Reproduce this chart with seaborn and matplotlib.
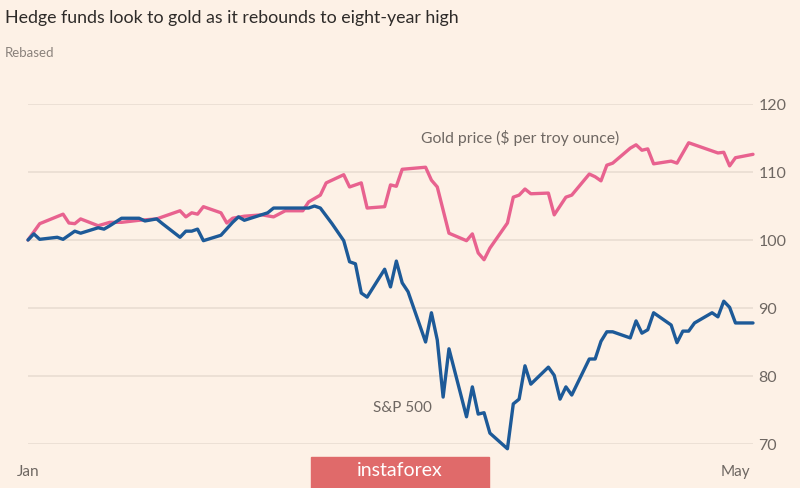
import matplotlib
matplotlib.use("Agg")
import matplotlib.pyplot as plt
import seaborn as sns
import pandas as pd

# gold price, rebased to 100 on 1 Jan
gold_dates = ['2020-01-01', '2020-01-03', '2020-01-05', '2020-01-07', '2020-01-08', '2020-01-09',
              '2020-01-10', '2020-01-13', '2020-01-15', '2020-01-17', '2020-01-20', '2020-01-23',
              '2020-01-25', '2020-01-27', '2020-01-28', '2020-01-29', '2020-01-30', '2020-01-31',
              '2020-02-01', '2020-02-03', '2020-02-04', '2020-02-05', '2020-02-07', '2020-02-10',
              '2020-02-12', '2020-02-14', '2020-02-17', '2020-02-18', '2020-02-20', '2020-02-21',
              '2020-02-24', '2020-02-25', '2020-02-27', '2020-02-28', '2020-03-02', '2020-03-03',
              '2020-03-04', '2020-03-05', '2020-03-09', '2020-03-10', '2020-03-11', '2020-03-13',
              '2020-03-16', '2020-03-17', '2020-03-18', '2020-03-19', '2020-03-20', '2020-03-23',
              '2020-03-24', '2020-03-25', '2020-03-26', '2020-03-27', '2020-03-30', '2020-03-31',
              '2020-04-02', '2020-04-03', '2020-04-06', '2020-04-07', '2020-04-08', '2020-04-09',
              '2020-04-10', '2020-04-13', '2020-04-14', '2020-04-15', '2020-04-16', '2020-04-17',
              '2020-04-20', '2020-04-21', '2020-04-23', '2020-04-28', '2020-04-29', '2020-04-30',
              '2020-05-01', '2020-05-04']
gold_values = [100.0, 102.4, 103.1, 103.8, 102.5, 102.4,
               103.1, 102.1, 102.6, 102.6, 102.9, 103.1,
               103.7, 104.3, 103.4, 104.0, 103.8, 104.9,
               104.6, 104.0, 102.5, 103.2, 103.5, 103.7,
               103.4, 104.3, 104.3, 105.6, 106.6, 108.4,
               109.6, 107.8, 108.4, 104.7, 104.9, 108.1,
               107.9, 110.4, 110.7, 108.8, 107.8, 101.0,
               99.9, 100.9, 98.1, 97.1, 98.8, 102.5,
               106.3, 106.6, 107.5, 106.8, 106.9, 103.7,
               106.3, 106.6, 109.7, 109.3, 108.7, 111.0,
               111.3, 113.5, 114.0, 113.2, 113.4, 111.2,
               111.6, 111.3, 114.3, 112.8, 112.9, 110.9,
               112.1, 112.6]

# S&P 500, rebased to 100 on 1 Jan
spx_dates = ['2020-01-01', '2020-01-02', '2020-01-03', '2020-01-06', '2020-01-07', '2020-01-09',
             '2020-01-10', '2020-01-13', '2020-01-14', '2020-01-15', '2020-01-17', '2020-01-20',
             '2020-01-21', '2020-01-23', '2020-01-24', '2020-01-27', '2020-01-28', '2020-01-29',
             '2020-01-30', '2020-01-31', '2020-02-03', '2020-02-05', '2020-02-06', '2020-02-07',
             '2020-02-11', '2020-02-12', '2020-02-18', '2020-02-19', '2020-02-20', '2020-02-22',
             '2020-02-24', '2020-02-25', '2020-02-26', '2020-02-27', '2020-02-28', '2020-03-02',
             '2020-03-03', '2020-03-04', '2020-03-05', '2020-03-06', '2020-03-09', '2020-03-10',
             '2020-03-11', '2020-03-12', '2020-03-13', '2020-03-16', '2020-03-17', '2020-03-18',
             '2020-03-19', '2020-03-20', '2020-03-23', '2020-03-24', '2020-03-25', '2020-03-26',
             '2020-03-27', '2020-03-30', '2020-03-31', '2020-04-01', '2020-04-02', '2020-04-03',
             '2020-04-06', '2020-04-07', '2020-04-08', '2020-04-09', '2020-04-10', '2020-04-13',
             '2020-04-14', '2020-04-15', '2020-04-16', '2020-04-17', '2020-04-20', '2020-04-21',
             '2020-04-22', '2020-04-23', '2020-04-24', '2020-04-27', '2020-04-28', '2020-04-29',
             '2020-04-30', '2020-05-01', '2020-05-04']
spx_values = [100.0, 100.9, 100.1, 100.4, 100.1, 101.3,
              101.0, 101.8, 101.6, 102.1, 103.2, 103.2,
              102.8, 103.1, 102.4, 100.4, 101.3, 101.3,
              101.6, 99.9, 100.7, 102.6, 103.4, 102.9,
              104.0, 104.7, 104.7, 105.0, 104.7, 102.4,
              99.9, 96.8, 96.5, 92.2, 91.6, 95.7,
              93.1, 96.9, 93.7, 92.4, 85.0, 89.3,
              85.3, 76.9, 84.0, 74.0, 78.4, 74.4,
              74.6, 71.6, 69.3, 75.9, 76.6, 81.5,
              78.8, 81.3, 80.1, 76.6, 78.4, 77.2,
              82.5, 82.5, 85.1, 86.5, 86.5, 85.6,
              88.1, 86.3, 86.8, 89.3, 87.5, 84.9,
              86.6, 86.6, 87.8, 89.3, 88.7, 91.0,
              90.1, 87.8, 87.8]

y_ticks = [70, 80, 90, 100, 110, 120]
month_ticks = ['2020-01-01', '2020-02-01', '2020-03-01', '2020-04-01', '2020-05-01']
month_labels = ['Jan', '', '', '', 'May']

bg = '#FDF1E6'
grid = '#E8DCD1'
txt = '#6E6762'

sns.set_style('white', {'axes.facecolor': bg, 'figure.facecolor': bg})
plt.rcParams['font.family'] = ['Lato', 'DejaVu Sans']

df = pd.concat([
    pd.DataFrame({'date': pd.to_datetime(gold_dates), 'value': gold_values, 'series': 'gold'}),
    pd.DataFrame({'date': pd.to_datetime(spx_dates), 'value': spx_values, 'series': 'spx'}),
])

fig = plt.figure(figsize=(8, 4.88), dpi=100)
ax = fig.add_axes([28 / 800, 1 - 444 / 488, 725 / 800, 340 / 488])

sns.lineplot(data=df, x='date', y='value', hue='series',
             palette={'gold': '#E8628F', 'spx': '#1D5A98'},
             linewidth=2.4, legend=False, ax=ax, clip_on=False, zorder=3)

ax.set_xlim(pd.Timestamp('2020-01-01'), pd.Timestamp('2020-05-04'))
ax.set_ylim(70, 120)
ax.set_xlabel('')
ax.set_ylabel('')

for s in ax.spines.values():
    s.set_visible(False)
ax.set_yticks(y_ticks)
ax.yaxis.tick_right()
ax.tick_params(axis='y', length=0, pad=4, labelsize=11.5, labelcolor=txt)
for v in y_ticks:
    ax.axhline(v, color=grid, lw=1.1, zorder=1)

ax.set_xticks(pd.to_datetime(month_ticks))
ax.set_xticklabels(month_labels)
ax.tick_params(axis='x', length=5, width=1.1, color=grid, pad=10,
               labelsize=11, labelcolor=txt, direction='out')

ax.text(pd.Timestamp('2020-03-08 06:00'), 115.0, 'Gold price ($ per troy ounce)',
        fontsize=11.3, color=txt, va='center', ha='left')
ax.text(pd.Timestamp('2020-02-29'), 75.3, 'S&P 500',
        fontsize=11, color=txt, va='center', ha='left')

fig.text(5 / 800, 1 - 18 / 488, 'Hedge funds look to gold as it rebounds to eight-year high',
         fontsize=12.8, color='#2E2B29', va='center', ha='left')
fig.text(5 / 800, 1 - 53 / 488, 'Rebased', fontsize=9.5, color='#8A827C',
         va='center', ha='left')

# watermark box
fig.patches.append(plt.Rectangle((311 / 800, 0), 178 / 800, 31 / 488,
                                 transform=fig.transFigure, color='#E06A6A', zorder=5))
fig.text(400 / 800, 1 - 471 / 488, 'instaforex', fontsize=14, color='white',
         ha='center', va='center', zorder=6)

fig.savefig('out.png', dpi=100, facecolor=bg)
